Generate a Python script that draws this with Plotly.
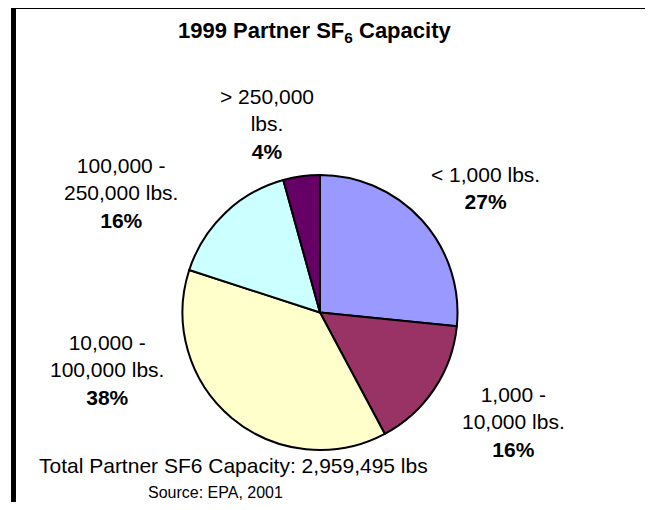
import plotly.graph_objects as go

# Data
categories = ["< 1,000 lbs.", "1,000 -<br>10,000 lbs.", "10,000 -<br>100,000 lbs.",
              "100,000 -<br>250,000 lbs.", "> 250,000<br>lbs."]
shares = [26.6, 15.6, 37.8, 15.7, 4.3]  # percent of total capacity
colors = ["#9999FF", "#993366", "#FFFFCC", "#CCFFFF", "#660066"]
title_text = "1999 Partner SF<sub>6</sub> Capacity"
total_text = "Total Partner SF6 Capacity: 2,959,495 lbs"
source_text = "Source: EPA, 2001"

# The page body has an 8px margin: size the figure so the page fits the 653x510 window
OFF = 8
W, H = 653 - 2 * OFF, 510 - 2 * OFF
FONT = "Liberation Sans, Arial, sans-serif"


def px(x):
    return (x - OFF) / W


def py(y):
    return 1 - (y - OFF) / H


# pie placement (window pixels)
cx, cy, r = 320, 312.5, 137.5

fig = go.Figure()
fig.add_trace(go.Pie(
    labels=categories,
    values=shares,
    sort=False,
    direction="clockwise",
    rotation=0,
    marker=dict(colors=colors, line=dict(color="black", width=2)),
    textinfo="none",
    hoverinfo="skip",
    showlegend=False,
    domain=dict(x=[px(cx - r), px(cx + r)], y=[py(cy + r), py(cy - r)]),
))

# label positions in window pixels (x center, y middle)
label_pos = [(485, 188), (513, 422), (107, 370), (121, 193), (267, 124)]
annotations = []
for cat, v, (lx, ly) in zip(categories, shares, label_pos):
    annotations.append(dict(
        text=f"{cat}<br><b>{round(v)}%</b>",
        x=px(lx), y=py(ly), xref="paper", yref="paper",
        xanchor="center", yanchor="middle", showarrow=False, align="center",
        font=dict(family=FONT, size=21, color="black"),
    ))

annotations.append(dict(
    text=f"<b>{title_text}</b>", x=px(314), y=py(32), xref="paper", yref="paper",
    xanchor="center", yanchor="middle", showarrow=False,
    font=dict(family=FONT, size=22, color="black"),
))
annotations.append(dict(
    text=total_text, x=px(233), y=py(465), xref="paper", yref="paper",
    xanchor="center", yanchor="middle", showarrow=False,
    font=dict(family=FONT, size=21, color="black"),
))
annotations.append(dict(
    text=source_text, x=px(216), y=py(492), xref="paper", yref="paper",
    xanchor="center", yanchor="middle", showarrow=False,
    font=dict(family=FONT, size=16, color="black"),
))

border = dict(color="black", width=5)
fig.update_layout(
    width=W, height=H,
    margin=dict(l=0, r=0, t=0, b=0),
    paper_bgcolor="white", plot_bgcolor="white",
    annotations=annotations,
    shapes=[
        # frame: top and left edges (right and bottom edges lie outside the picture)
        dict(type="line", xref="paper", yref="paper",
             x0=px(11), x1=1.0, y0=py(6.5), y1=py(6.5), line=border),
        dict(type="line", xref="paper", yref="paper",
             x0=px(13.5), x1=px(13.5), y0=py(4), y1=0.0, line=border),
    ],
)

fig.write_html("out.html", config={"displayModeBar": False})
